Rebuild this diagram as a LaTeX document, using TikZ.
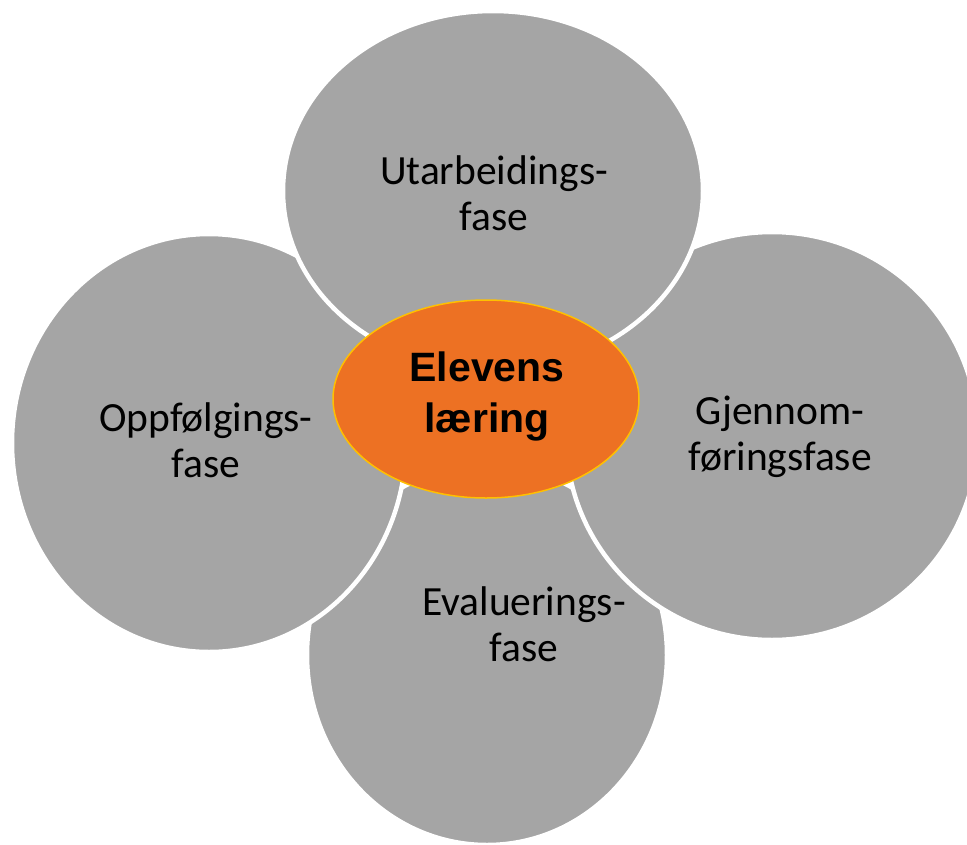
\documentclass[tikz,border=0pt]{standalone}
\usepackage{fontspec}
\setmainfont{Carlito}
\newfontfamily\centrefont{Liberation Sans}
\usetikzlibrary{shapes.geometric}
\definecolor{petalgrey}{HTML}{A5A5A5}
\definecolor{hubfill}{HTML}{ED7123}
\definecolor{hubborder}{HTML}{FFC000}
\begin{document}
\begin{tikzpicture}[x=1pt,y=-1pt,
  petal/.style={ellipse, fill=petalgrey, draw=white, line width=4.5pt, inner sep=0pt},
  hub/.style={ellipse, fill=hubfill, draw=hubborder, line width=1.5pt, inner sep=0pt},
  phasetext/.style={anchor=base, inner sep=0pt, text=black, font=\fontsize{41.5}{46}\selectfont},
  hubtext/.style={anchor=base, inner sep=0pt, text=black, font=\centrefont\bfseries\fontsize{41}{51}\selectfont}]
  \useasboundingbox (0,0) rectangle (967,844);
  \clip (0,0) rectangle (967,844);
  % petals (drawing order: bottom, left, right, top)
  \node[petal, minimum width=360pt, minimum height=380pt] (bottom) at (487,655) {};
  \node[petal, minimum width=394pt, minimum height=418pt] (left) at (209,443) {};
  \node[petal, minimum width=412pt, minimum height=408pt] (right) at (772,436) {};
  \node[petal, minimum width=420pt, minimum height=360pt] (top) at (493,191) {};
  % hub
  \node[hub, minimum width=306pt, minimum height=198pt] (hub) at (486,399) {};
  % texts
  \node[phasetext] (toptext) at (494,184) {\begin{tabular}[t]{@{}c@{}}Utarbeidings-\\fase\end{tabular}};
  \node[phasetext] (lefttext) at (206,431) {\begin{tabular}[t]{@{}c@{}}Oppfølgings-\\fase\end{tabular}};
  \node[phasetext] (righttext) at (780,424) {\begin{tabular}[t]{@{}c@{}}Gjennom-\\føringsfase\end{tabular}};
  \node[phasetext] (bottomtext) at (524,615) {\begin{tabular}[t]{@{}c@{}}Evaluerings-\\fase\end{tabular}};
  \node[hubtext] (hubtext) at (487,381) {\begin{tabular}[t]{@{}c@{}}Elevens\\læring\end{tabular}};
\end{tikzpicture}
\end{document}
